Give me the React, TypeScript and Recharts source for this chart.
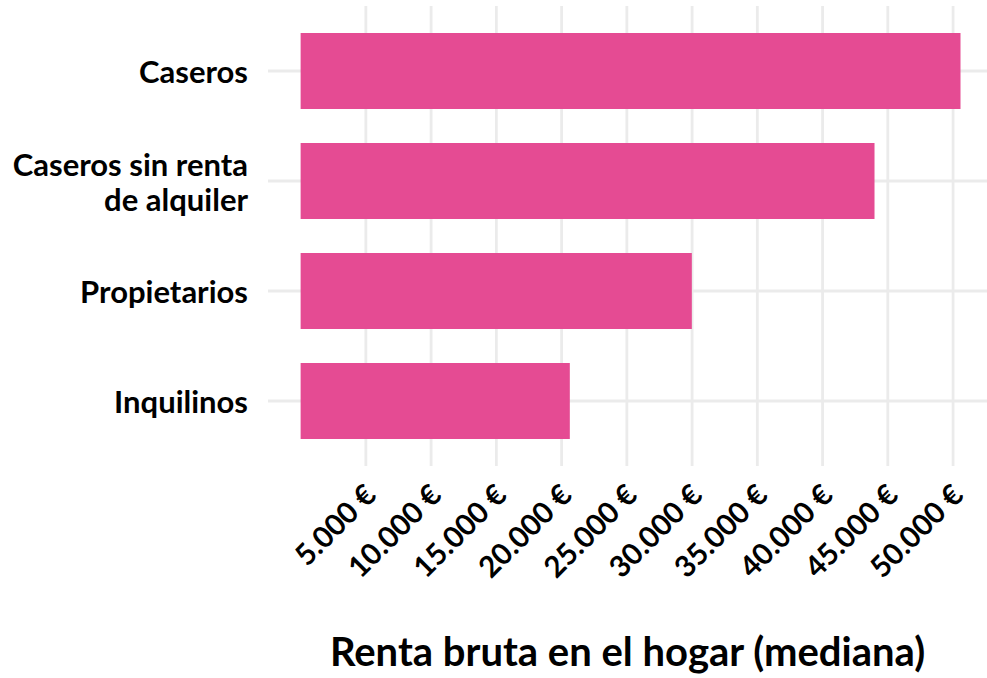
import { BarChart, Bar, XAxis, YAxis, CartesianGrid } from "recharts";

const categories = [
  "Caseros",
  "Caseros sin renta de alquiler",
  "Propietarios",
  "Inquilinos",
];
const categoryLines = [
  ["Caseros"],
  ["Caseros sin renta", "de alquiler"],
  ["Propietarios"],
  ["Inquilinos"],
];
const renta = [50570, 43980, 29980, 20630];
const xTicks = [5000, 10000, 15000, 20000, 25000, 30000, 35000, 40000, 45000, 50000];

const data = categories.map((c, i) => ({ name: c, renta: renta[i] }));

const FONT = "Lato, 'Noto Sans', sans-serif";

const fmtEuro = (v: number) =>
  String(v).replace(/\B(?=(\d{3})+(?!\d))/g, ".") + " €";

const YTick = (props: any) => {
  const { x, y, payload } = props;
  const idx = categories.indexOf(payload.value);
  const lines = categoryLines[idx] || [payload.value];
  const lh = 35;
  const start = -((lines.length - 1) * lh) / 2;
  return (
    <text
      x={x}
      y={y}
      textAnchor="end"
      fontFamily={FONT}
      fontWeight={700}
      fontSize={31}
      fill="#000"
    >
      {lines.map((l, i) => (
        <tspan key={i} x={x} y={y + start + i * lh} dominantBaseline="central">
          {l}
        </tspan>
      ))}
    </text>
  );
};

const XTick = (props: any) => {
  const { x, y, payload } = props;
  return (
    <g transform={`translate(${x + 12},${y + 31}) rotate(-45)`}>
      <text
        x={0}
        y={0}
        textAnchor="end"
        fontFamily={FONT}
        fontWeight={700}
        fontSize={29.5}
        fill="#000"
      >
        {fmtEuro(payload.value)}
      </text>
    </g>
  );
};

export default function App() {
  return (
    <div style={{ position: "absolute", left: 0, top: 0, background: "#fff" }}>
      <BarChart
        width={987}
        height={678}
        data={data}
        layout="vertical"
        margin={{ top: 6, right: 0, bottom: 0, left: 0 }}
      >
        <CartesianGrid stroke="#EBEBEB" strokeWidth={2.8} syncWithTicks />
        <XAxis
          type="number"
          domain={[-2500, 52600]}
          ticks={xTicks}
          allowDataOverflow
          axisLine={false}
          tickLine={false}
          tickSize={0}
          tickMargin={0}
          height={212}
          interval={0}
          tick={<XTick />}
          label={{
            value: "Renta bruta en el hogar (mediana)",
            position: "insideBottom",
            offset: 12,
            style: {
              fontFamily: FONT,
              fontWeight: 700,
              fontSize: 40,
              fill: "#000",
            },
          }}
        />
        <YAxis
          type="category"
          dataKey="name"
          width={268}
          axisLine={false}
          tickLine={false}
          tickSize={0}
          tickMargin={20}
          padding={{ top: 10, bottom: 10 }}
          interval={0}
          tick={<YTick />}
        />
        <Bar dataKey="renta" fill="#E54B93" barSize={76} isAnimationActive={false} />
      </BarChart>
    </div>
  );
}
